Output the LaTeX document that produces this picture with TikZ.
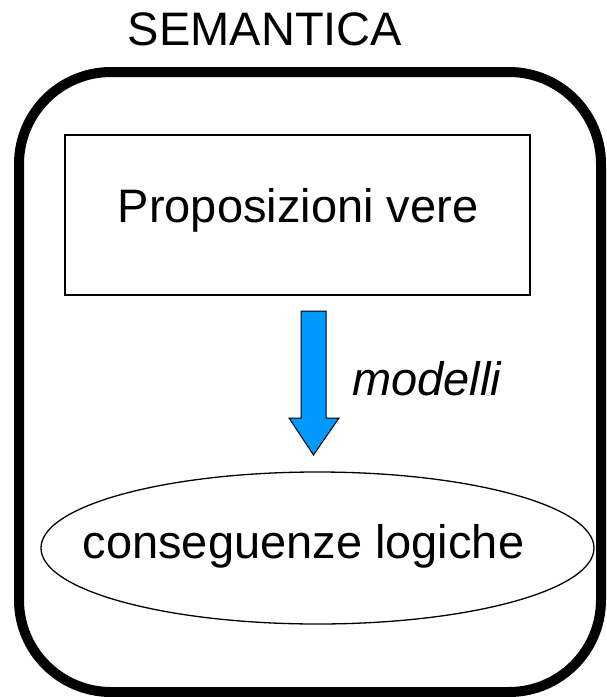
\documentclass[tikz,border=0pt]{standalone}
\usepackage{fontspec}
\setmainfont{Liberation Sans}
\usetikzlibrary{shapes.geometric}
\definecolor{arrowblue}{RGB}{0,153,255}
\begin{document}
\begin{tikzpicture}[x=1pt,y=-1pt,
  txt/.style={font=\fontsize{47}{56}\selectfont, inner sep=0pt, anchor=base},
  frame/.style={draw=black, line width=10pt, rounded corners=92pt},
  box/.style={draw=black, line width=2pt},
  blockarrow/.style={fill=arrowblue, draw=black, line width=1pt, line join=miter}]
\useasboundingbox (0,0) rectangle (606,697);
% outer frame
\draw[frame] (19,72) rectangle (601,692);
% title
\node[txt] (title) at (265,45) {SEMANTICA};
% top box
\node[box, minimum width=465pt, minimum height=160pt, inner sep=0pt] (prop) at (297.5,215) {};
\node[txt] (proptxt) at (298,222) {Proposizioni vere};
% ellipse
\node[ellipse, draw=black, line width=1.3pt, minimum width=553pt, minimum height=152pt, inner sep=0pt] (cons) at (317.5,548) {};
\node[txt] (constxt) at (303.5,558) {conseguenze logiche};
% block arrow
\coordinate (atop) at (313.5,311);
\draw[blockarrow] ([xshift=-12.5pt]atop) -- ([xshift=12.5pt]atop) -- ([xshift=12.5pt,yshift=-107pt]atop)
  -- ([xshift=25.5pt,yshift=-107pt]atop) -- ([yshift=-144pt]atop) -- ([xshift=-24.5pt,yshift=-107pt]atop)
  -- ([xshift=-12.5pt,yshift=-107pt]atop) -- cycle;
\node[txt, anchor=base west, font=\fontsize{47}{56}\selectfont\itshape] (lbl) at (352,395) {modelli};
\end{tikzpicture}
\end{document}
